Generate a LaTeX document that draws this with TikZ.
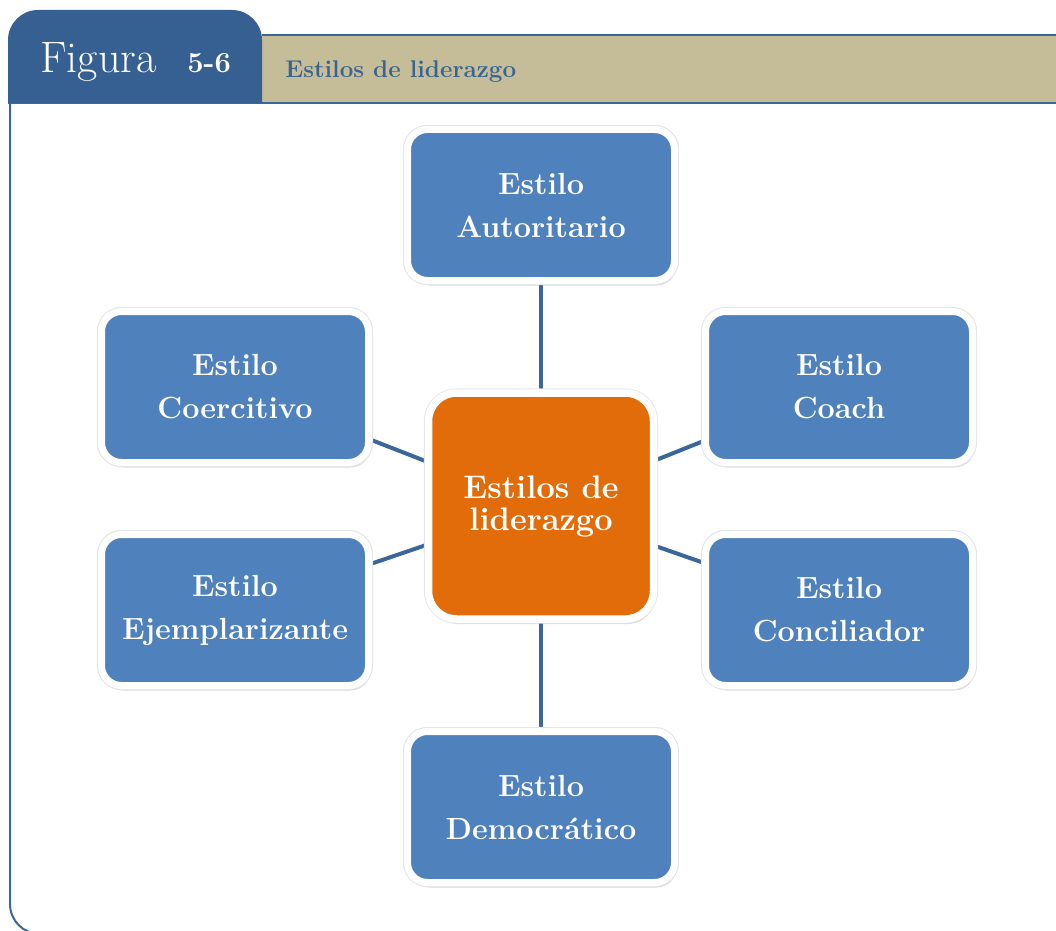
\documentclass[tikz,border=0pt]{standalone}
\usetikzlibrary{shadows,backgrounds}
\definecolor{tabazul}{HTML}{366092}
\definecolor{bandaocre}{HTML}{C4BD97}
\definecolor{cajaazul}{HTML}{4F81BD}
\definecolor{naranja}{HTML}{E36C0A}
\definecolor{lineaazul}{HTML}{3B6699}
\definecolor{titazul}{HTML}{3A6494}
\tikzset{
  estilo/.style={rectangle, rounded corners=10pt, fill=cajaazul, draw=white,
    line width=3.5pt, minimum width=133.5pt, minimum height=75.5pt,
    inner sep=0pt, align=center, text=white,
    font=\bfseries\fontsize{15.3}{21.5}\selectfont,
    drop shadow={shadow xshift=1pt, shadow yshift=-2.5pt, opacity=0.3},
    preaction={draw=black!10, line width=4.6pt}},
  centro/.style={estilo, rounded corners=14pt, fill=naranja, line width=3.75pt,
    minimum width=112.5pt, minimum height=113pt,
    font=\bfseries\fontsize{16.3}{16}\selectfont},
  enlace/.style={draw=lineaazul, line width=2pt}
}
\begin{document}
\begin{tikzpicture}[x=0.5pt, y=-0.5pt]
  \useasboundingbox (0,0) rectangle (1056,931);
  % Marco
  \draw[lineaazul, line width=1pt, rounded corners=15pt] (10,103) -- (10,934) -- (1100,934);
  % Banda del título
  \fill[bandaocre] (262,35) rectangle (1056,103);
  \draw[lineaazul, line width=1pt] (262,35) -- (1056,35);
  \draw[lineaazul, line width=1pt] (8,103) -- (1056,103);
  % Pestaña
  \fill[tabazul, rounded corners=15pt] (8,103) -- (8,10) -- (262,10) [sharp corners] -- (262,103) -- cycle;
  \node[anchor=base west, inner sep=0pt, text=white, font=\fontsize{22}{26}\selectfont] (fig) at (40,73) {Figura};
  \node[anchor=base west, inner sep=0pt, text=white, font=\bfseries\fontsize{14.5}{17}\selectfont] (num) at (187,73) {5-6};
  \node[anchor=base west, inner sep=0pt, text=titazul, font=\bfseries\fontsize{12.1}{14}\selectfont] (tit) at (285,78) {Estilos de liderazgo};
  % Nodos
  \node[centro] (c) at (541,506) {Estilos de\\liderazgo};
  \node[estilo] (aut) at (541,205) {Estilo\\Autoritario};
  \node[estilo] (coe) at (235,387) {Estilo\\Coercitivo};
  \node[estilo] (coa) at (839,387) {Estilo\\Coach};
  \node[estilo] (eje) at (235,610) {Estilo\\Ejemplarizante};
  \node[estilo] (con) at (839,610) {Estilo\\Conciliador};
  \node[estilo] (dem) at (541,807) {Estilo\\Democrático};
  % Conectores
  \begin{scope}[on background layer]
    \foreach \n in {aut,coe,coa,eje,con,dem}
      \draw[enlace] (c) -- (\n);
  \end{scope}
\end{tikzpicture}
\end{document}
